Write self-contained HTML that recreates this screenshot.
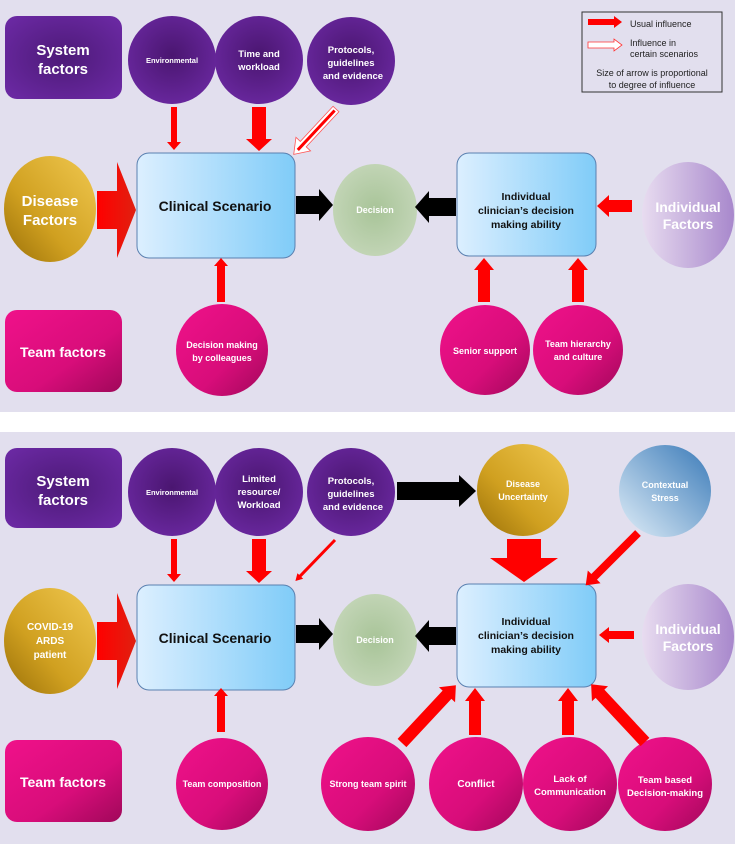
<!DOCTYPE html>
<html><head><meta charset="utf-8"><style>
html,body{margin:0;padding:0;background:#fff}
svg{display:block}
text{font-family:"Liberation Sans",Arial,sans-serif;font-weight:bold;text-anchor:middle}
text.lg{font-weight:normal}
</style></head><body>
<svg width="735" height="844" viewBox="0 0 735 844" xmlns="http://www.w3.org/2000/svg">
<defs>
<radialGradient id="pur" cx="50%" cy="45%" r="60%"><stop offset="0" stop-color="#4a1670"/><stop offset="1" stop-color="#6a28a0"/></radialGradient>
<radialGradient id="purbox" cx="50%" cy="50%" r="70%"><stop offset="0" stop-color="#4d1a78"/><stop offset="1" stop-color="#6d2aa6"/></radialGradient>
<linearGradient id="pink" x1="0" y1="0" x2="1" y2="1"><stop offset="0" stop-color="#f0118a"/><stop offset="0.6" stop-color="#d80d7a"/><stop offset="1" stop-color="#a0085a"/></linearGradient>
<linearGradient id="gold" x1="1" y1="0" x2="0" y2="1"><stop offset="0" stop-color="#f0c850"/><stop offset="0.6" stop-color="#d0a020"/><stop offset="1" stop-color="#9a7008"/></linearGradient>
<linearGradient id="blue" x1="0" y1="0" x2="1" y2="0"><stop offset="0" stop-color="#dcefff"/><stop offset="1" stop-color="#80ccf8"/></linearGradient>
<radialGradient id="green" cx="50%" cy="50%" r="55%"><stop offset="0" stop-color="#a8c498"/><stop offset="1" stop-color="#c4d6b8"/></radialGradient>
<linearGradient id="lav" x1="0" y1="0" x2="1" y2="0"><stop offset="0" stop-color="#e8dcf0"/><stop offset="1" stop-color="#a888cc"/></linearGradient>
<linearGradient id="ctx" x1="0" y1="1" x2="1" y2="0"><stop offset="0" stop-color="#e0eef8"/><stop offset="1" stop-color="#3a7ab8"/></linearGradient>
<linearGradient id="redar" x1="0" y1="0" x2="1" y2="0"><stop offset="0" stop-color="#ff0000"/><stop offset="1" stop-color="#e02010"/></linearGradient>
</defs>

<rect x="0" y="0" width="735" height="412" fill="#e2dfee"/>
<rect x="0" y="432" width="735" height="412" fill="#e2dfee"/>

<!-- ========== TOP PANEL ========== -->
<rect x="5" y="16" width="117" height="83" rx="12" fill="url(#purbox)"/>
<text x="63" y="55" font-size="15" fill="#fff">System</text>
<text x="63" y="74" font-size="15" fill="#fff">factors</text>

<circle cx="172" cy="60" r="44" fill="url(#pur)"/>
<text x="172" y="63" font-size="7.5" fill="#fff">Environmental</text>
<circle cx="259" cy="60" r="44" fill="url(#pur)"/>
<text x="259" y="57" font-size="9.5" fill="#fff">Time and</text>
<text x="259" y="70" font-size="9.5" fill="#fff">workload</text>
<circle cx="351" cy="61" r="44" fill="url(#pur)"/>
<text x="351" y="53" font-size="9.5" fill="#fff">Protocols,</text>
<text x="351" y="66" font-size="9.5" fill="#fff">guidelines</text>
<text x="353" y="79" font-size="9.5" fill="#fff">and evidence</text>

<!-- legend -->
<rect x="582" y="12" width="140" height="80" fill="#e2dfee" stroke="#333" stroke-width="1"/>
<polygon points="588,19 614,19 614,16 622,22 614,28 614,25 588,25" fill="#f00"/>
<text class="lg" x="630" y="27" font-size="9" fill="#222" style="text-anchor:start">Usual influence</text>
<polygon points="588,42 614,42 614,39 622,45 614,51 614,48 588,48" fill="#fff" stroke="#f33" stroke-width="0.8"/>
<text class="lg" x="630" y="46" font-size="9" fill="#222" style="text-anchor:start">Influence in</text>
<text class="lg" x="630" y="57" font-size="9" fill="#222" style="text-anchor:start">certain scenarios</text>
<text class="lg" x="652" y="76" font-size="9" fill="#222">Size of arrow is proportional</text>
<text class="lg" x="652" y="88" font-size="9" fill="#222">to degree of influence</text>

<ellipse cx="50" cy="209" rx="46" ry="53" fill="url(#gold)"/>
<text x="50" y="206" font-size="15" fill="#fff">Disease</text>
<text x="50" y="225" font-size="15" fill="#fff">Factors</text>

<rect x="137" y="153" width="158" height="105" rx="12" fill="url(#blue)" stroke="#5a80b0" stroke-width="1"/>
<text x="215" y="211" font-size="14" fill="#111">Clinical Scenario</text>

<ellipse cx="375" cy="210" rx="42" ry="46" fill="url(#green)"/>
<text x="375" y="213" font-size="9" fill="#fff">Decision</text>

<rect x="457" y="153" width="139" height="103" rx="12" fill="url(#blue)" stroke="#5a80b0" stroke-width="1"/>
<text x="526" y="200" font-size="10.5" fill="#111">Individual</text>
<text x="526" y="214" font-size="10.5" fill="#111">clinician’s decision</text>
<text x="526" y="228" font-size="10.5" fill="#111">making ability</text>

<ellipse cx="688" cy="215" rx="46" ry="53" fill="url(#lav)"/>
<text x="688" y="212" font-size="14" fill="#fff">Individual</text>
<text x="688" y="229" font-size="14" fill="#fff">Factors</text>

<rect x="5" y="310" width="117" height="82" rx="12" fill="url(#pink)"/>
<text x="63" y="357" font-size="14" fill="#fff">Team factors</text>

<circle cx="222" cy="350" r="46" fill="url(#pink)"/>
<text x="222" y="348" font-size="9" fill="#fff">Decision making</text>
<text x="222" y="361" font-size="9" fill="#fff">by colleagues</text>

<circle cx="485" cy="350" r="45" fill="url(#pink)"/>
<text x="485" y="354" font-size="9" fill="#fff">Senior support</text>
<circle cx="578" cy="350" r="45" fill="url(#pink)"/>
<text x="578" y="347" font-size="9" fill="#fff">Team hierarchy</text>
<text x="578" y="360" font-size="9" fill="#fff">and culture</text>

<!-- top arrows -->
<g transform="translate(174,107) rotate(90)"><polygon points="0,-3 35,-3 35,-7 43,0 35,7 35,3 0,3" fill="#f00"/></g>
<g transform="translate(259,107) rotate(90)"><polygon points="0,-7 32,-7 32,-13 44,0 32,13 32,7 0,7" fill="#f00"/></g>
<g transform="translate(336,109) rotate(133)"><polygon points="0,-4 48,-4 48,-10 62,0 48,10 48,4 0,4" fill="#fff" stroke="#f55" stroke-width="0.8"/><line x1="2" y1="0" x2="56" y2="0" stroke="#f00" stroke-width="3"/></g>
<g transform="translate(97,210)"><polygon points="0,-19 20,-19 20,-48 39,0 20,48 20,19 0,19" fill="url(#redar)"/></g>
<g transform="translate(296,205)"><polygon points="0,-9 23,-9 23,-16 37,0 23,16 23,9 0,9" fill="#000"/></g>
<g transform="translate(221,302) rotate(-90)"><polygon points="0,-4 36,-4 36,-7 44,0 36,7 36,4 0,4" fill="#f00"/></g>
<g transform="translate(456,207) rotate(180)"><polygon points="0,-9 27,-9 27,-16 41,0 27,16 27,9 0,9" fill="#000"/></g>
<g transform="translate(632,206) rotate(180)"><polygon points="0,-6 23,-6 23,-11 35,0 23,11 23,6 0,6" fill="#f00"/></g>
<g transform="translate(484,302) rotate(-90)"><polygon points="0,-6 32,-6 32,-10 44,0 32,10 32,6 0,6" fill="#f00"/></g>
<g transform="translate(578,302) rotate(-90)"><polygon points="0,-6 32,-6 32,-10 44,0 32,10 32,6 0,6" fill="#f00"/></g>

<!-- ========== BOTTOM PANEL ========== -->
<rect x="5" y="448" width="117" height="80" rx="12" fill="url(#purbox)"/>
<text x="63" y="486" font-size="15" fill="#fff">System</text>
<text x="63" y="505" font-size="15" fill="#fff">factors</text>

<circle cx="172" cy="492" r="44" fill="url(#pur)"/>
<text x="172" y="495" font-size="7.5" fill="#fff">Environmental</text>
<circle cx="259" cy="492" r="44" fill="url(#pur)"/>
<text x="259" y="482" font-size="9.5" fill="#fff">Limited</text>
<text x="259" y="495" font-size="9.5" fill="#fff">resource/</text>
<text x="259" y="508" font-size="9.5" fill="#fff">Workload</text>
<circle cx="351" cy="492" r="44" fill="url(#pur)"/>
<text x="351" y="484" font-size="9.5" fill="#fff">Protocols,</text>
<text x="351" y="497" font-size="9.5" fill="#fff">guidelines</text>
<text x="353" y="510" font-size="9.5" fill="#fff">and evidence</text>

<circle cx="523" cy="490" r="46" fill="url(#gold)"/>
<text x="523" y="487" font-size="9" fill="#fff">Disease</text>
<text x="523" y="500" font-size="9" fill="#fff">Uncertainty</text>

<circle cx="665" cy="491" r="46" fill="url(#ctx)"/>
<text x="665" y="488" font-size="9" fill="#fff">Contextual</text>
<text x="665" y="501" font-size="9" fill="#fff">Stress</text>

<ellipse cx="50" cy="641" rx="46" ry="53" fill="url(#gold)"/>
<text x="50" y="630" font-size="10" fill="#fff">COVID-19</text>
<text x="50" y="644" font-size="10" fill="#fff">ARDS</text>
<text x="50" y="658" font-size="10" fill="#fff">patient</text>

<rect x="137" y="585" width="158" height="105" rx="12" fill="url(#blue)" stroke="#5a80b0" stroke-width="1"/>
<text x="215" y="643" font-size="14" fill="#111">Clinical Scenario</text>

<ellipse cx="375" cy="640" rx="42" ry="46" fill="url(#green)"/>
<text x="375" y="643" font-size="9" fill="#fff">Decision</text>

<rect x="457" y="584" width="139" height="103" rx="12" fill="url(#blue)" stroke="#5a80b0" stroke-width="1"/>
<text x="526" y="625" font-size="10.5" fill="#111">Individual</text>
<text x="526" y="639" font-size="10.5" fill="#111">clinician’s decision</text>
<text x="526" y="653" font-size="10.5" fill="#111">making ability</text>

<ellipse cx="688" cy="637" rx="46" ry="53" fill="url(#lav)"/>
<text x="688" y="634" font-size="14" fill="#fff">Individual</text>
<text x="688" y="651" font-size="14" fill="#fff">Factors</text>

<rect x="5" y="740" width="117" height="82" rx="12" fill="url(#pink)"/>
<text x="63" y="787" font-size="14" fill="#fff">Team factors</text>

<circle cx="222" cy="784" r="46" fill="url(#pink)"/>
<text x="222" y="787" font-size="9" fill="#fff">Team composition</text>
<circle cx="368" cy="784" r="47" fill="url(#pink)"/>
<text x="368" y="787" font-size="9" fill="#fff">Strong team spirit</text>
<circle cx="476" cy="784" r="47" fill="url(#pink)"/>
<text x="476" y="787" font-size="10" fill="#fff">Conflict</text>
<circle cx="570" cy="784" r="47" fill="url(#pink)"/>
<text x="570" y="782" font-size="9.5" fill="#fff">Lack of</text>
<text x="570" y="795" font-size="9.5" fill="#fff">Communication</text>
<circle cx="665" cy="784" r="47" fill="url(#pink)"/>
<text x="665" y="783" font-size="9.5" fill="#fff">Team based</text>
<text x="665" y="796" font-size="9.5" fill="#fff">Decision-making</text>

<!-- bottom arrows -->
<g transform="translate(174,539) rotate(90)"><polygon points="0,-3 35,-3 35,-7 43,0 35,7 35,3 0,3" fill="#f00"/></g>
<g transform="translate(259,539) rotate(90)"><polygon points="0,-7 32,-7 32,-13 44,0 32,13 32,7 0,7" fill="#f00"/></g>
<g transform="translate(335,540) rotate(134)"><polygon points="0,-1.5 50,-1.5 50,-4 57,0 50,4 50,1.5 0,1.5" fill="#f00"/></g>
<g transform="translate(397,491)"><polygon points="0,-9 62,-9 62,-16 79,0 62,16 62,9 0,9" fill="#000"/></g>
<g transform="translate(97,641)"><polygon points="0,-19 20,-19 20,-48 39,0 20,48 20,19 0,19" fill="url(#redar)"/></g>
<g transform="translate(296,634)"><polygon points="0,-9 23,-9 23,-16 37,0 23,16 23,9 0,9" fill="#000"/></g>
<g transform="translate(221,732) rotate(-90)"><polygon points="0,-4 36,-4 36,-7 44,0 36,7 36,4 0,4" fill="#f00"/></g>
<g transform="translate(456,636) rotate(180)"><polygon points="0,-9 27,-9 27,-16 41,0 27,16 27,9 0,9" fill="#000"/></g>
<g transform="translate(634,635) rotate(180)"><polygon points="0,-4 25,-4 25,-8 35,0 25,8 25,4 0,4" fill="#f00"/></g>
<g transform="translate(524,539) rotate(90)"><polygon points="0,-17 19,-17 19,-34 43,0 19,34 19,17 0,17" fill="#f00"/></g>
<g transform="translate(638,533) rotate(135)"><polygon points="0,-4 62,-4 62,-9 74,0 62,9 62,4 0,4" fill="#f00"/></g>
<g transform="translate(402,743) rotate(-47)"><polygon points="0,-6 66,-6 66,-11 79,0 66,11 66,6 0,6" fill="#f00"/></g>
<g transform="translate(475,735) rotate(-90)"><polygon points="0,-6 34,-6 34,-10 47,0 34,10 34,6 0,6" fill="#f00"/></g>
<g transform="translate(568,735) rotate(-90)"><polygon points="0,-6 34,-6 34,-10 47,0 34,10 34,6 0,6" fill="#f00"/></g>
<g transform="translate(645,742) rotate(-133)"><polygon points="0,-6 66,-6 66,-11 79,0 66,11 66,6 0,6" fill="#f00"/></g>
</svg>
</body></html>
